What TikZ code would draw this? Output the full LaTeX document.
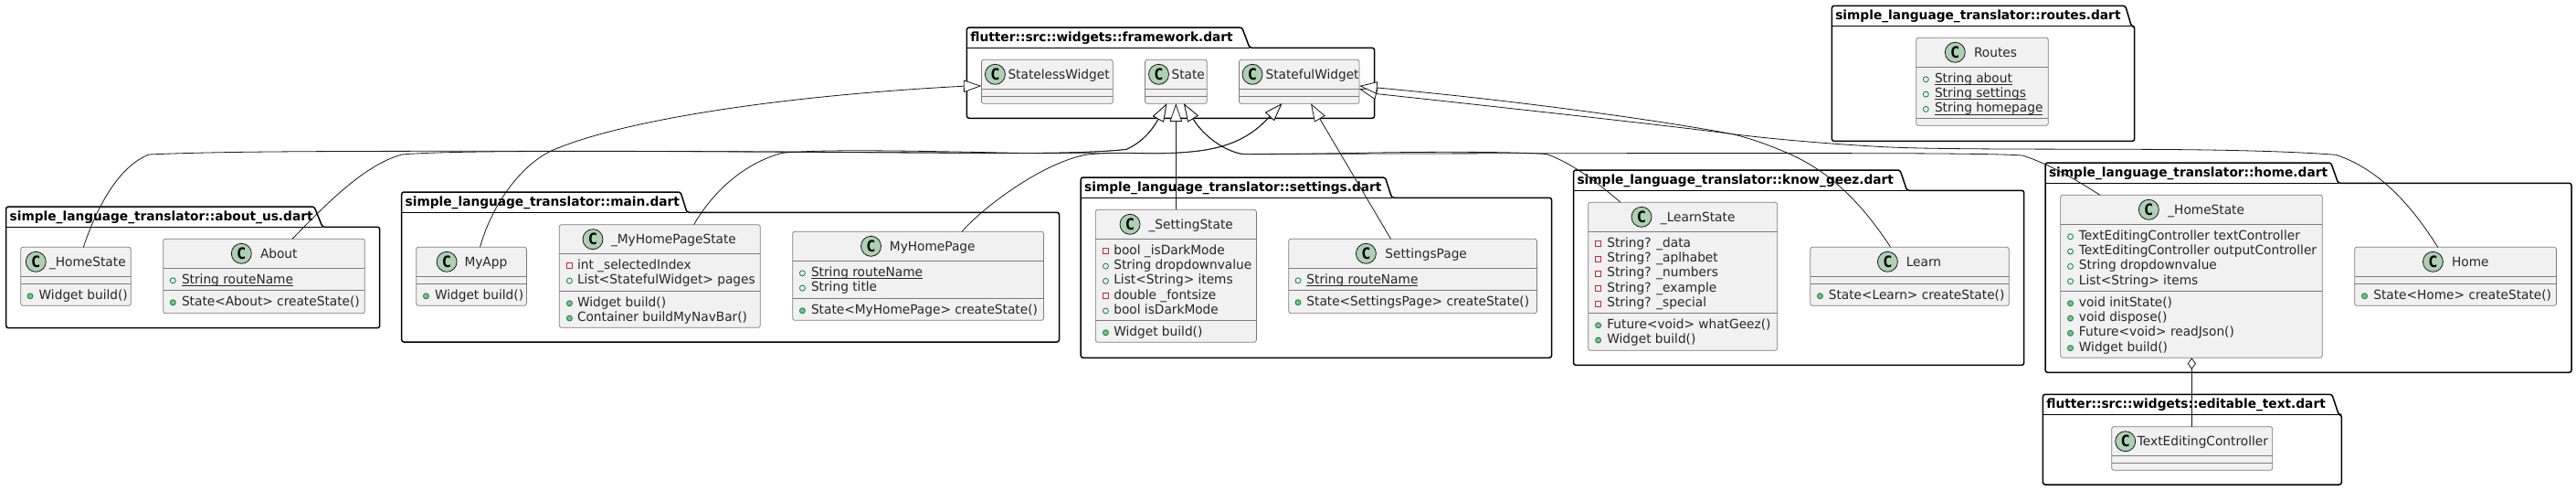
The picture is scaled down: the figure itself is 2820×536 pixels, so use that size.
\documentclass[tikz,border=0pt]{standalone}
\usepackage{fontspec}
\usetikzlibrary{arrows.meta,calc}
\setmainfont{DejaVu Sans}[FakeStretch=0.98]
\newfontfamily\spotfont{DejaVu Sans Mono}
\definecolor{edgec}{HTML}{181818}
\definecolor{clsedge}{HTML}{7C7C7C}
\definecolor{clsfill}{HTML}{F1F1F1}
\definecolor{spotc}{HTML}{ADD1B2}
\definecolor{pubc}{HTML}{038048}
\definecolor{pubf}{HTML}{84BE84}
\definecolor{privc}{HTML}{C82930}
\newcounter{tn}
\newcounter{sn}
\tikzset{
  txt/.style={anchor=base west,inner sep=0pt,outer sep=0pt,font=\fontsize{14}{16}\selectfont,text=black!85},
  ttl/.style={anchor=base west,inner sep=0pt,outer sep=0pt,font=\fontsize{14}{16}\selectfont\bfseries,text=black},
  clsbox/.style={draw=clsedge,line width=0.75pt,fill=clsfill,rounded corners=2.5pt,inner sep=0pt,outer sep=0pt},
  clsline/.style={draw=clsedge,line width=0.75pt},
  spot/.style={circle,draw=edgec,line width=0.8pt,fill=spotc,minimum size=22pt,inner sep=0pt,outer sep=0pt,font=\fontsize{17}{17}\spotfont\bfseries,text=black},
  pkgline/.style={draw=black,line width=1.5pt,rounded corners=2.5pt,line join=round},
  edgeln/.style={draw=edgec,line width=0.8pt},
  ext/.style={edgeln,-{Triangle[length=19.5pt,width=13.4pt,fill=white]}},
  agg/.style={edgeln,-{Diamond[length=12.7pt,width=9pt,fill=white]}},
  pubA/.style={draw=pubc,line width=0.8pt,fill=none},
  pubM/.style={draw=pubc,line width=0.8pt,fill=pubf},
  privA/.style={draw=privc,line width=0.8pt,fill=none},
}
% package: left top tabTopX tabBotX right bottom title
\newcommand\pkg[7]{%
  \draw[pkgline] (#1,#2+22.3) -- (#1,#2) -- (#3,#2) -- (#4,#2+22.3) -- (#5,#2+22.3) -- (#5,#6) -- (#1,#6) -- cycle;
  \draw[pkgline] (#1,#2+22.3) -- (#4,#2+22.3);
  \stepcounter{tn}\node[ttl] (t\arabic{tn}) at (#1+4,#2+15.3) {#7};
}
% class: name x1 y1 x2 y2 sep1 sep2 spotX nameX title
\newcommand\cls[9]{%
  \node[clsbox,minimum width={(#4-#2)*1pt},minimum height={(#5-#3)*1pt}] (#1) at ({(#2+#4)/2},{(#3+#5)/2}) {};
  \draw[clsline] (#2,#6) -- (#4,#6);
  \draw[clsline] (#2,#7) -- (#4,#7);
  \stepcounter{sn}\node[spot] (s\arabic{sn}) at (#8,#3+16) {C};
  \def\clsy{#3}\clsname{#9}%
}
\newcommand\clsname[2]{\stepcounter{tn}\node[txt] (t\arabic{tn}) at (#1,\clsy+21) {#2};}
\newcommand\rowtxt[3]{\stepcounter{tn}\node[txt] (t\arabic{tn}) at (#1,#2+5) {#3};}
\newcommand\attrpub[4]{\draw[pubA] (#1,#3+1.5) circle (3pt);\rowtxt{#2}{#3}{#4}}
\newcommand\methpub[4]{\draw[pubM] (#1,#3+1.5) circle (3pt);\rowtxt{#2}{#3}{#4}}
\newcommand\attrpriv[4]{\draw[privA] (#1-3,#3-1.5) rectangle (#1+3,#3+4.5);\rowtxt{#2}{#3}{#4}}
\newcommand\staticul[1]{\leavevmode\setbox0=\hbox{#1}\rlap{\vrule width\wd0 height -1.6pt depth 2.6pt}\box0}
\begin{document}
\begin{tikzpicture}[x=1pt,y=-1pt]
\fill[white] (0,0) rectangle (2820,536);
\useasboundingbox (0,0) rectangle (2820,536);

% packages
\pkg{1058.4}{30}{1359.6}{1368}{1504.6}{129.3}{flutter::src::widgets::framework.dart}
\pkg{2005.3}{6.4}{2326.7}{2333.3}{2336.7}{154.3}{simple\_language\_translator::routes.dart}
\pkg{6.7}{226}{344}{353}{415.7}{358.7}{simple\_language\_translator::about\_us.dart}
\pkg{439.7}{210}{745}{752}{1159.5}{374}{simple\_language\_translator::main.dart}
\pkg{1183.2}{194}{1516.4}{1523.6}{1698.6}{391.3}{simple\_language\_translator::settings.dart}
\pkg{1722.5}{186}{2080}{2087.5}{2215.7}{399.3}{simple\_language\_translator::know\_geez.dart}
\pkg{2239}{178}{2551.7}{2559.6}{2815}{407.3}{simple\_language\_translator::home.dart}
\pkg{2236.4}{431.3}{2552.8}{2560.3}{2563.3}{530}{flutter::src::widgets::editable\_text.dart}

% classes
\cls{fl}{1074.4}{65.3}{1218.3}{113.3}{97.3}{105.3}{1089.4}{1103.5}{StatelessWidget}
\cls{st}{1253.5}{65.3}{1321.3}{113.3}{97.3}{105.3}{1268.5}{1282.6}{State}
\cls{sf}{1356.5}{65.3}{1488.1}{113.3}{97.3}{105.3}{1371}{1385.6}{StatefulWidget}

\cls{ro}{2097.7}{41.3}{2242.3}{137.3}{73.3}{129.3}{2140.3}{2161}{Routes}
\attrpub{2108.3}{2118}{85.3}{\staticul{String about}}
\attrpub{2108.3}{2118}{101.6}{\staticul{String settings}}
\attrpub{2108.3}{2118}{117.9}{\staticul{String homepage}}

\cls{ah}{22.7}{270.3}{143.3}{334.3}{302.3}{310.3}{39.3}{54}{\_HomeState}
\methpub{33}{42.7}{322.3}{Widget build()}
\cls{ab}{178.7}{261.3}{399.3}{342.7}{293.3}{317.3}{264.3}{285}{About}
\attrpub{189.3}{199}{305.3}{\staticul{String routeName}}
\methpub{189.3}{199}{329.3}{State<About> createState()}

\cls{ma}{455.7}{270.3}{576.4}{334.3}{302.3}{310.3}{489.1}{508.5}{MyApp}
\methpub{466.4}{476}{322.3}{Widget build()}
\cls{mh}{612.3}{245.7}{832.3}{358.3}{277.3}{318.3}{649}{669}{\_MyHomePageState}
\attrpriv{623.4}{632}{289.3}{int \_selectedIndex}
\attrpub{623.4}{632}{305.6}{List<StatefulWidget> pages}
\methpub{623.4}{632}{330.3}{Widget build()}
\methpub{623.4}{632}{346.6}{Container buildMyNavBar()}
\cls{mp}{867.7}{253.3}{1142.6}{350.3}{285.3}{326.3}{953.5}{973.9}{MyHomePage}
\attrpub{878.4}{888}{297.3}{\staticul{String routeName}}
\attrpub{878.4}{888}{313.6}{String title}
\methpub{878.4}{888}{338.3}{State<MyHomePage> createState()}

\cls{ss}{1199.3}{229.3}{1375.4}{374.3}{261.3}{350.3}{1237}{1257.5}{\_SettingState}
\attrpriv{1210.4}{1219.3}{273.3}{bool \_isDarkMode}
\attrpub{1210.4}{1219.3}{289.6}{String dropdownvalue}
\attrpub{1210.4}{1219.3}{305.9}{List<String> items}
\attrpriv{1210.4}{1219.3}{322.2}{double \_fontsize}
\attrpub{1210.4}{1219.3}{338.5}{bool isDarkMode}
\methpub{1210.4}{1219.3}{362.3}{Widget build()}
\cls{sp}{1410.7}{261.3}{1682.5}{342.7}{293.3}{317.3}{1495.4}{1516.4}{SettingsPage}
\attrpub{1421}{1430.4}{305.3}{\staticul{String routeName}}
\methpub{1421}{1430.4}{329.3}{State<SettingsPage> createState()}

\cls{ls}{1738.6}{221.3}{1945.7}{383.3}{253.3}{342.3}{1797}{1817.9}{\_LearnState}
\attrpriv{1749.6}{1759.3}{265.3}{String? \_data}
\attrpriv{1749.6}{1759.3}{281.6}{String? \_aplhabet}
\attrpriv{1749.6}{1759.3}{297.9}{String? \_numbers}
\attrpriv{1749.6}{1759.3}{314.2}{String? \_example}
\attrpriv{1749.6}{1759.3}{330.5}{String? \_special}
\methpub{1749.6}{1759.3}{354.3}{Future<void> whatGeez()}
\methpub{1749.6}{1759.3}{370.6}{Widget build()}
\cls{lr}{1981.8}{270.3}{2199.3}{334.3}{302.3}{310.3}{2066.4}{2086.8}{Learn}
\methpub{1992.5}{2001.8}{322.3}{State<Learn> createState()}

\cls{hs}{2255.6}{213.3}{2542.3}{391.3}{245.3}{318.3}{2352.3}{2373.3}{\_HomeState}
\attrpub{2266.5}{2275.9}{257.3}{TextEditingController textController}
\attrpub{2266.5}{2275.9}{273.6}{TextEditingController outputController}
\attrpub{2266.5}{2275.9}{289.9}{String dropdownvalue}
\attrpub{2266.5}{2275.9}{306.2}{List<String> items}
\methpub{2266.5}{2275.9}{330.3}{void initState()}
\methpub{2266.5}{2275.9}{346.6}{void dispose()}
\methpub{2266.5}{2275.9}{362.9}{Future<void> readJson()}
\methpub{2266.5}{2275.9}{379.2}{Widget build()}
\cls{hm}{2577.6}{270.3}{2798.5}{334.3}{302.3}{310.3}{2663.4}{2684}{Home}
\methpub{2588.5}{2598.3}{322.3}{State<Home> createState()}

\cls{te}{2311.6}{466.7}{2487.7}{514.3}{498.3}{506.3}{2326.7}{2339.9}{TextEditingController}

% inheritance
\draw[ext] ([xshift=69.8pt]ma.north west) .. controls (538,225) and (570,180) .. (605,164.3)
  .. controls (680,132) and (850,105) .. (1054,94.3) -- ([yshift=-28.7pt]fl.north west);

\draw[ext] ([xshift=68.6pt]ah.north west) .. controls (110,215) and (135,180) .. (163,169)
  .. controls (250,165) and (400,165.3) .. (650,165.3)
  .. controls (850,165.6) and (1050,167.5) .. (1120,167.5)
  .. controls (1160,167.5) and (1205,166.5) .. (1233.3,163.3)
  .. controls (1245,158) and (1258,148) .. (1267.5,131.1) -- ([xshift=23.8pt]st.south west);
\draw[ext] ([xshift=147.3pt]mh.north west) .. controls (780,210) and (815,178) .. (856.6,167.3)
  .. controls (900,163) and (1000,165) .. (1120,167.5)
  .. controls (1160,167.5) and (1205,166.5) .. (1233.3,163.3)
  .. controls (1245,158) and (1258,148) .. (1267.5,131.1) -- ([xshift=23.8pt]st.south west);
\draw[ext] ([xshift=141.3pt]ab.north west) .. controls (360,220) and (400,180) .. (440,169)
  .. controls (480,165.3) and (600,165.3) .. (700,165.5)
  .. controls (900,166) and (1100,168) .. (1260,167.8)
  .. controls (1320,167.5) and (1358,162) .. (1389,128.5) -- ([xshift=46.8pt]sf.south west);
\draw[ext] ([xshift=185.3pt]mp.north west) .. controls (1075,228) and (1140,178) .. (1190,169)
  .. controls (1220,166) and (1240,167.5) .. (1260,167.8)
  .. controls (1320,167.5) and (1358,162) .. (1389,128.5) -- ([xshift=46.8pt]sf.south west);
\draw[ext] ([xshift=88pt]ss.north west) -- ([xshift=33.8pt]st.south west);
\draw[ext] ([xshift=111.8pt]sp.north west) -- ([xshift=78.5pt]sf.south west);
\draw[ext] ([xshift=35.4pt]ls.north west) .. controls (1755,205) and (1725,180) .. (1693,168.5)
  .. controls (1650,165.5) and (1550,166) .. (1480,167.5)
  .. controls (1440,168) and (1400,169) .. (1360,168.5)
  .. controls (1340,165) and (1318,149) .. (1306.7,131) -- ([xshift=42.5pt]st.south west);
\draw[ext] ([xshift=43.2pt]hs.north west) .. controls (2275,198) and (2245,180) .. (2214,170)
  .. controls (2180,167.5) and (2050,167.6) .. (1900,167.6)
  .. controls (1700,167.6) and (1500,168) .. (1360,168.5)
  .. controls (1340,165) and (1318,149) .. (1306.7,131) -- ([xshift=42.5pt]st.south west);
\draw[ext] ([xshift=87.8pt]lr.north west) .. controls (2040,225) and (2005,188) .. (1956.7,167.3)
  .. controls (1935,158) and (1915,151) .. (1896.7,146.7)
  .. controls (1850,140) and (1650,118) .. (1508,102.7) -- ([yshift=-32pt]sf.north east);
\draw[ext] ([xshift=91.1pt]hm.north west) .. controls (2640,225) and (2605,185) .. (2557,169.3)
  .. controls (2500,165) and (2420,163.5) .. (2330,163.3)
  .. controls (2200,163) and (2100,163.3) .. (2050,160)
  .. controls (2000,157) and (1950,153) .. (1896.7,146.7)
  .. controls (1830,134) and (1680,112) .. (1508,96) -- ([yshift=-28.7pt]sf.north east);

% aggregation
\draw[agg] ([xshift=87.7pt]te.north west) -- ([xshift=143.7pt]hs.south west);
\end{tikzpicture}
\end{document}
